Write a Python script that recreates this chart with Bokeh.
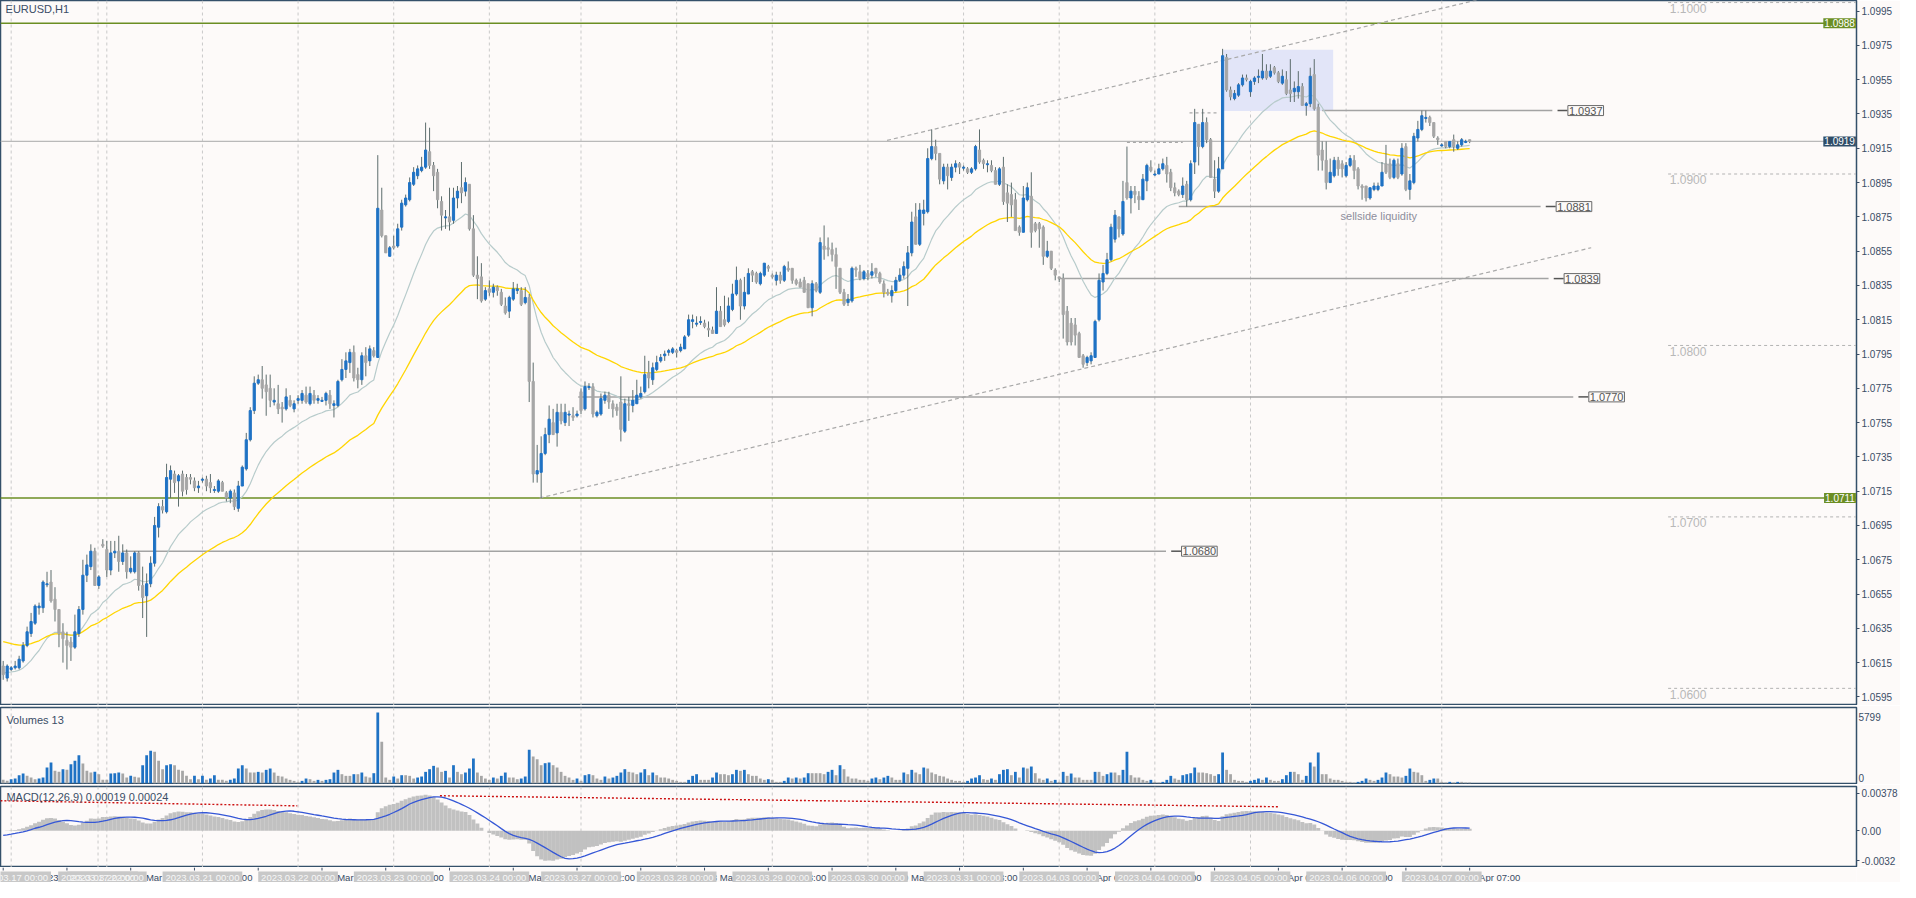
import numpy as np
from bokeh.plotting import figure
from bokeh.models import Range1d, FixedTicker, Label, Span, NumeralTickFormatter, CustomJSTickFormatter
from bokeh.layouts import column
from bokeh.embed import file_html
from bokeh.resources import INLINE
from bokeh.core.properties import value

# ---------------- data (prices in pips above 1.0000, one per H1 bar) ----------------
symbol_title = "EURUSD,H1"
volume_title = "Volumes 13"
macd_title = "MACD(12,26,9) 0.00019 0.00024"
first_bar = -2   # index of first bar (bar 0 = 2023.03.17 00:00)

open_pips = [
 613,606,611,612,612,616,625,632,638,647, 647,661,662,652,646,633,628,627,624,632,
 646,666,671,680,660,684,681,669,679,680, 674,679,668,668,679,660,654,661,673,694,
 706,703,722,725,721,725,723,723,721,717, 722,722,720,716,715,720,714,711,714,705,
 718,728,745,762,778,780,777,775,767,766, 764,763,768,763,768,
 768,771,766,771,768,768,768,771,765,765, 780,786,790,796,783,780,794,791,797,793,
 879,864,852,858,858,869,882,885,894,899, 902,904,913,905,901,884,875,875,873,886,
 892,890,894,868,841,840,827,833,831,834, 831,823,820,827,832,832,825,828,779,725,
 726,737,748,755,749,761,755,760,759,759, 773,763,776,776,759,
 760,768,771,766,764,767,750,766,765,766, 770,773,784,780,786,791,794,796,796,797,
 797,798,806,814,813,814,813,810,809,807, 820,815,814,821,830,838,823,830,843,842,
 836,841,846,841,838,841,838,845,845,838, 837,838,836,822,836,831,858,857,856,853,
 845,831,825,826,845,843,839,842,841,845, 842,836,831,829,832,
 838,841,845,854,875,859,877,878,909,916, 912,896,904,898,904,906,904,903,901,903,
 914,908,906,905,902,894,904,889,888,885, 869,866,885,887,871,871,869,852,855,844,
 840,839,820,813,812,807,794,790,791,793, 815,837,842,850,862,875,865,895,886,890,
 887,885,896,904,900,900,903,905,901,892, 890,888,894,885,907,
 929,916,930,920,897,890,903,968,949,944, 946,952,956,948,954,957,956,960,957,962,
 959,953,955,949,948,948,951,940,941,958, 939,914,908,895,899,908,906,899,905,908,
 903,893,893,886,891,891,893,906,906,898, 906,900,916,891,895,921,926,933,933,930,
 921,917,919,916,920,915,917,919,920]

high_pips = [
 616,614,613,616,619,627,636,644,649,650, 663,668,669,659,646,638,633,630,643,648,
 675,678,684,682,666,687,686,686,686,689, 684,681,677,680,680,671,667,677,700,708,
 710,731,730,727,725,727,725,725,723,721, 723,724,725,718,722,721,715,716,716,721,
 730,749,764,782,783,788,783,783,775,777, 767,775,771,768,771,
 774,776,776,774,771,770,773,774,768,780, 792,796,798,800,787,796,799,800,799,911,
 892,864,858,864,871,885,888,898,904,905, 910,930,927,907,903,887,879,892,892,893,
 907,898,894,876,852,848,834,838,836,835, 833,828,829,837,836,834,834,830,790,742,
 747,752,765,763,766,766,766,762,764,762, 775,779,778,778,762,
 772,773,773,768,766,782,769,770,774,780, 776,794,791,790,794,795,797,798,799,798,
 801,806,818,818,817,817,815,814,811,834, 823,829,828,836,846,839,840,845,844,843,
 843,848,847,842,843,843,847,849,845,839, 839,840,836,838,837,863,870,863,860,857,
 845,833,830,846,846,847,844,844,848,845, 843,838,833,835,840,
 845,849,858,878,883,883,885,915,926,920, 912,906,906,906,908,907,905,904,904,917,
 926,909,908,908,904,904,910,894,895,889, 870,893,895,901,872,872,870,861,855,845,
 840,842,823,816,816,808,795,794,796,815, 842,847,854,871,879,875,896,916,893,893,
 890,900,906,908,902,906,909,910,903,895, 891,898,896,908,938,
 929,938,933,921,908,910,973,970,951,949, 953,958,958,955,957,961,970,964,964,963,
 960,961,960,967,954,960,953,942,962,967, 941,919,919,909,910,910,908,907,911,911,
 904,894,893,892,895,895,907,917,909,909, 909,918,918,900,924,931,937,937,934,930,
 922,918,919,919,923,919,921,920,920]

low_pips = [
 605,604,610,611,611,615,624,630,637,643, 644,659,650,639,624,615,611,616,623,630,
 643,662,669,660,658,682,665,666,676,668, 672,664,667,667,657,641,630,659,671,688,
 702,702,711,714,706,712,713,719,715,714, 720,715,714,714,714,715,709,708,704,703,
 718,727,744,760,777,769,759,764,765,760, 755,762,764,761,766,
 766,766,765,766,766,767,765,763,758,764, 779,781,784,779,775,777,782,788,793,793,
 863,854,852,856,857,867,881,884,893,897, 901,903,903,890,880,867,868,867,871,880,
 883,887,867,840,827,825,826,829,828,829, 823,818,816,826,830,823,824,767,720,720,
 711,736,743,748,741,754,753,753,756,758, 760,762,774,758,758,
 759,766,763,758,759,744,749,756,761,766, 769,772,775,777,785,790,791,794,795,793,
 796,798,805,810,811,812,810,805,807,807, 811,811,813,820,829,815,821,830,837,836,
 835,840,843,839,835,836,837,843,836,835, 834,831,822,817,831,830,850,852,849,833,
 830,823,823,825,840,838,838,838,839,840, 836,828,829,825,831,
 837,839,823,852,859,858,870,877,908,908, 894,894,891,896,901,900,902,900,900,902,
 906,903,901,901,894,893,882,872,875,867, 864,866,884,857,866,857,847,851,844,838,
 837,804,800,800,800,793,787,788,789,793, 814,832,841,849,860,863,864,885,877,883,
 879,885,890,901,899,900,902,895,890,887, 887,886,881,884,900,
 905,915,918,898,886,889,903,948,943,943, 945,951,954,945,952,953,955,955,956,958,
 953,952,946,942,942,944,940,934,939,937, 902,902,891,895,898,899,898,898,904,897,
 891,885,884,885,890,890,893,900,897,897, 897,899,890,885,894,919,925,930,928,921,
 917,916,915,915,913,914,916,918,918]

close_pips = [
 608,613,612,613,617,625,633,639,648,648, 662,661,651,646,632,629,625,624,633,646,
 666,672,680,660,665,683,669,679,680,674, 679,668,670,679,660,653,661,673,695,706,
 704,723,727,720,724,715,716,722,717,718, 722,718,717,716,721,715,711,715,706,718,
 729,745,762,778,780,775,773,768,768,763, 763,770,765,766,769,
 772,767,772,768,769,768,772,766,766,779, 786,791,796,781,780,794,790,798,794,880,
 864,854,857,857,868,883,886,895,901,903, 904,914,905,899,885,876,875,872,886,890,
 889,895,868,841,839,826,832,831,834,832, 824,819,828,833,833,824,828,779,725,727,
 737,748,757,748,761,756,761,760,758,760, 762,776,776,760,761,
 769,771,767,763,762,751,766,765,768,771, 772,783,781,787,790,793,795,797,798,796,
 799,805,815,815,813,814,811,809,807,820, 811,812,823,830,838,823,831,842,841,837,
 842,848,845,840,841,838,846,844,838,836, 834,831,822,836,832,860,856,856,853,846,
 831,824,827,845,844,839,843,840,843,842, 837,831,830,832,838,
 841,846,854,872,859,879,879,909,916,912, 897,904,899,904,906,904,904,901,903,916,
 907,906,906,902,894,903,884,883,882,867, 866,886,892,866,867,868,852,855,845,841,
 839,818,802,802,806,793,789,793,794,814, 838,842,850,869,876,868,884,886,890,888,
 885,897,905,902,900,903,906,900,892,889, 888,893,885,906,930,
 916,930,920,898,890,903,969,949,945,947, 952,956,955,954,956,957,960,956,960,959,
 954,957,947,947,950,951,940,941,957,938, 911,908,895,901,908,903,903,905,909,902,
 893,892,886,892,893,893,901,901,898,908, 898,915,891,896,922,926,934,933,930,922,
 920,917,916,919,916,917,920,919,919]

volumes = [
 274,191,
 328,383,656,793,602,465,328,383,465,1285,1696,1012,930,1149,1094,1559,1832,2297,1614,1012,875,930,738,274,
 274,793,820,875,793,465,602,520,465,1477,2297,2653,2571,1832,1149,1477,1559,1477,1094,1012,602,328,602,328,
 602,274,383,656,274,274,191,274,383,1203,1477,1203,875,875,930,875,1094,1203,875,602,547,383,274,191,
 109,191,383,328,191,274,191,274,328,875,1094,738,602,602,738,738,875,547,465,820,5799,3391,465,274,
 547,383,656,656,602,383,465,547,930,1149,1422,1285,930,1012,465,1477,930,738,875,1203,2024,875,602,383,
 274,465,383,602,875,465,465,328,383,547,2735,2188,1969,1477,1641,1696,1477,1285,930,602,465,274,383,
 191,656,738,656,383,274,547,383,465,602,875,1149,930,875,738,875,1149,656,875,656,465,465,383,274,
 191,109,109,274,602,738,274,274,274,465,875,738,738,656,738,1094,1012,1094,738,602,602,383,274,328,
 274,109,109,191,465,383,465,383,465,820,820,820,820,738,930,1094,656,1477,1149,547,383,383,274,274,
 191,383,465,328,465,602,465,274,274,875,738,1094,875,738,1285,1203,875,738,602,547,
 383,274,191,191,109,191,383,465,656,328, 274,383,274,738,1094,1149,656,930,465,1285,
 1203,1367,820,383,274,383,191,274,109,930, 602,793,465,465,274,274,274,930,930,602,
 738,875,875,656,1094,2571,656,465,465,274, 191,274,109,55,109,274,602,383,274,656,
 738,820,1285,875,875,820,738,602,738,2516, 1094,738,274,191,191,109,191,274,383,274,
 465,274,191,191,328,656,930,930,738,274, 602,1696,1367,2516,738,738,383,274,274,191,
 109,109,55,109,191,383,274,191,274,465, 875,738,547,547,465,602,1203,930,875,656,
 191,274,383,383,109,55,109,55,109,109,55,55]

sep_bars = [0, 21.8, 24, 48, 72, 96, 120, 143, 167, 191, 215, 239, 263, 287, 311, 335, 359]
sep_labels = ["2023.03.17 00:00", "2023.03.17 22:00", "2023.03.20 00:00", "2023.03.21 00:00",
              "2023.03.22 00:00", "2023.03.23 00:00", "2023.03.24 00:00", "2023.03.27 00:00",
              "2023.03.28 00:00", "2023.03.29 00:00", "2023.03.30 00:00", "2023.03.31 00:00",
              "2023.04.03 00:00", "2023.04.04 00:00", "2023.04.05 00:00", "2023.04.06 00:00",
              "2023.04.07 00:00"]
time_tick_bars = list(range(-2, 367, 16))
time_tick_labels = ["17 Mar 2023", "17 Mar 14:00", "20 Mar 06:00", "20 Mar 22:00", "21 Mar 14:00",
                    "22 Mar 06:00", "22 Mar 22:00", "23 Mar 14:00", "24 Mar 06:00", "24 Mar 22:00",
                    "27 Mar 15:00", "28 Mar 07:00", "28 Mar 23:00", "29 Mar 15:00", "30 Mar 07:00",
                    "30 Mar 23:00", "31 Mar 15:00", "3 Apr 07:00", "3 Apr 23:00", "4 Apr 15:00",
                    "5 Apr 07:00", "5 Apr 23:00", "6 Apr 15:00", "7 Apr 07:00"]

price_ticks = [1.0595, 1.0615, 1.0635, 1.0655, 1.0675, 1.0695, 1.0715, 1.0735, 1.0755, 1.0775,
               1.0795, 1.0815, 1.0835, 1.0855, 1.0875, 1.0895, 1.0915, 1.0935, 1.0955, 1.0975, 1.0995]
vol_axis_labels = ["5799", "0"]
macd_axis_labels = ["0.00378", "0.00", "-0.0032"]

olive_levels = [1.0988, 1.0711]
bid_price = 1.0919
tag_prices = [1.0988, 1.0919, 1.0711]
level_prices = [1.0937, 1.0881, 1.0839, 1.0770, 1.0680]
level_start = [329, 293, 262.75, 142.3, 27.8]
level_end = [386.75, 383.8, 385.8, 392.0, 289.8]
round_levels = [1.1000, 1.0900, 1.0800, 1.0700, 1.0600]
round_labels = ["1.1000", "1.0900", "1.0800", "1.0700", "1.0600"]
lower_channel = [(132.6, 1.0711), (396.5, 1.0857)]
upper_channel_start = (219.8, 1.09196)
marker_lines = [(280, 294, 1.09184), (295.7, 302.8, 1.09356)]
zone = dict(left=304, right=331.75, bottom=1.09368, top=1.09725)
note_text = "sellside liquidity"
note_pos = (333.6, 1.08757)
macd_trend = [((-2.7, 0.00289), (71.8, 0.00240)), ((107.6, 0.00337), (318.3, 0.00231))]
ema_fast_seed, ema_slow_seed = 1.0609, 1.0628
signal_seed = -0.0005

# ---------------- derived ----------------
o = 1 + np.array(open_pips) / 10000.0
h = 1 + np.array(high_pips) / 10000.0
l = 1 + np.array(low_pips) / 10000.0
c = 1 + np.array(close_pips) / 10000.0
vol = np.array(volumes, dtype=float)
nbar = np.arange(first_bar, first_bar + len(c))


def ema(x, period, seed):
    a = 2.0 / (period + 1)
    out, e = [], seed
    for v in x:
        e = e + a * (v - e)
        out.append(e)
    return np.array(out)

ema_fast = ema(c, 20, ema_fast_seed)
ema_slow = ema(c, 50, ema_slow_seed)
macd_main = ema(c, 12, c[0]) - ema(c, 26, c[0])
padded = np.concatenate([np.full(8, signal_seed), macd_main])
macd_sig = np.array([padded[i:i + 9].mean() for i in range(len(macd_main))])

# ---------------- style ----------------
BG = "#fdfaf9"
FRAME = "#34506a"
AX = "#3a4d66"
BLUE = "#1f72c4"
GRAY = "#a6a6a6"
WICK = "#5d6d6d"
OLIVE = "#6b8e23"
FONT = "Liberation Sans"
W = 1900
RB = 37
FRAME_W = W - RB
MAIN_H = 705
X0 = -2.675
xr = Range1d(X0, X0 + FRAME_W / 4.0)
X_EDGE = X0 + FRAME_W / 4.0


def make(height, yr, axis=True, top=0):
    p = figure(width=W, height=height, x_range=xr, y_range=yr, output_backend="svg",
               toolbar_location=None, tools="", x_axis_location=None,
               y_axis_location="right" if axis else None,
               min_border_left=0, min_border_right=RB, min_border_top=top, min_border_bottom=0)
    p.background_fill_color = BG
    p.border_fill_color = BG
    p.grid.visible = False
    if axis:
        p.outline_line_color = FRAME
        p.outline_line_width = 1.5
        ax = p.yaxis[0]
        ax.axis_line_color = FRAME
        ax.major_label_text_font = FONT
        ax.major_label_text_font_size = "10px"
        ax.major_label_text_color = AX
        ax.major_tick_line_color = AX
        ax.major_tick_out = 3
        ax.major_tick_in = 0
        ax.minor_tick_out = 0
        ax.minor_tick_in = 0
        ax.major_label_standoff = 2
        for d in sep_bars:
            p.add_layout(Span(location=d, dimension="height", line_color="#c9c9c9",
                              line_dash="3 3", line_width=1, level="underlay"))
    else:
        p.outline_line_color = None
    return p


def title(p, x, y, txt):
    p.text(x=[x], y=[y], text=[txt], text_font=value(FONT), text_font_size=value("11px"),
           text_color=AX, text_baseline="middle", text_align="left")

# ---------------- main pane ----------------
yr_main = Range1d(1.05900, 1.10012)
pm = make(MAIN_H, yr_main)
pm.yaxis[0].ticker = FixedTicker(ticks=price_ticks)
pm.yaxis[0].formatter = NumeralTickFormatter(format="0.0000")

pm.quad(left=[zone["left"]], right=[zone["right"]], bottom=[zone["bottom"]], top=[zone["top"]],
        fill_color="#e2e5f8", line_color=None)

for lv in olive_levels:
    pm.add_layout(Span(location=lv, dimension="width", line_color=OLIVE, line_width=1.5, level="underlay"))
pm.add_layout(Span(location=bid_price, dimension="width", line_color="#b9b9b9", line_width=1.2, level="underlay"))

pm.segment(x0=[415.8] * len(round_levels), y0=round_levels, x1=[X_EDGE] * len(round_levels), y1=round_levels,
           line_color="#b3b3b3", line_dash="3 3", line_width=1)
pm.text(x=[416.2] * len(round_levels), y=[v - 0.00007 for v in round_levels], text=round_labels,
        text_font=value(FONT), text_font_size=value("12px"), text_color="#b8b8b8",
        text_baseline="top", text_align="left")

slope = (lower_channel[1][1] - lower_channel[0][1]) / (lower_channel[1][0] - lower_channel[0][0])
pm.segment(x0=[lower_channel[0][0]], y0=[lower_channel[0][1]], x1=[lower_channel[1][0]], y1=[lower_channel[1][1]],
           line_color="#a9a9a9", line_dash="4 3", line_width=1.2)
ux1 = 372
pm.segment(x0=[upper_channel_start[0]], y0=[upper_channel_start[1]], x1=[ux1],
           y1=[upper_channel_start[1] + slope * (ux1 - upper_channel_start[0])],
           line_color="#a9a9a9", line_dash="4 3", line_width=1.2)
for (a0, a1, pv) in marker_lines:
    pm.segment(x0=[a0], y0=[pv], x1=[a1], y1=[pv], line_color="#a9a9a9", line_dash="3 3", line_width=1.2)

pm.segment(x0=level_start, y0=level_prices, x1=level_end, y1=level_prices, line_color="#a3a3a3", line_width=1.5)
pm.segment(x0=[e + 1.3 for e in level_end], y0=level_prices, x1=[e + 3.8 for e in level_end], y1=level_prices,
           line_color="#555555", line_width=1.5)
for pv, e in zip(level_prices, level_end):
    pm.add_layout(Label(x=e + 3.9, y=pv, text=f"{pv:.4f}", text_font=FONT, text_font_size="11px",
                        text_color="#555555", text_align="left", text_baseline="middle",
                        background_fill_color=BG, border_line_color="#6a6a6a", border_line_width=1,
                        padding=1))

pm.line(nbar, ema_fast, line_color="#b7cbcb", line_width=1.2)
pm.line(nbar, ema_slow, line_color="#ffd500", line_width=1.3)

up = c >= o
body_top = np.maximum(o, c)
body_bot = np.minimum(o, c)
body_bot = np.where(body_top - body_bot < 0.00006, body_top - 0.00006, body_bot)
pm.segment(x0=nbar, y0=l, x1=nbar, y1=h, line_color=WICK, line_width=1)
colors = list(np.where(up, BLUE, GRAY))
pm.vbar(x=nbar, top=body_top, bottom=body_bot, width=0.55, fill_color=colors, line_color=colors, line_width=1)

pm.text(x=[note_pos[0]], y=[note_pos[1]], text=[note_text], text_font=value(FONT), text_font_size=value("11px"),
        text_color="#8e8e9c", text_baseline="middle", text_align="left")
title(pm, -1.4, 1.0996, symbol_title)

# price tags, placed against the right border of the chart (inside the frame so they are drawn)
for t, col in zip(tag_prices, [OLIVE, "#2f4d68", OLIVE]):
    pm.add_layout(Label(x=X_EDGE - 0.15, y=t, text=f"{t:.4f}", text_font=FONT, text_font_size="10px",
                        text_color="white", background_fill_color=col, text_baseline="middle",
                        text_align="right", padding=1))

# ---------------- volume pane ----------------
pv_ = make(79, Range1d(-107, 6209), top=2)
pv_.yaxis[0].ticker = FixedTicker(ticks=[5400, 420])
pv_.yaxis[0].formatter = CustomJSTickFormatter(code="return tick > 1000 ? '%s' : '%s';" % tuple(vol_axis_labels))
pv_.yaxis[0].major_tick_out = 0
vcol = [BLUE if (i > 0 and vol[i] > vol[i - 1]) else GRAY for i in range(len(vol))]
pv_.vbar(x=nbar, top=vol, bottom=0, width=0.7, fill_color=vcol, line_color=None)
title(pv_, -1.2, 5200, volume_title)

# ---------------- MACD pane ----------------
pc = make(83, Range1d(-0.00353, 0.00426), top=2)
pc.yaxis[0].ticker = FixedTicker(ticks=[0.00359, 0.0, -0.00289])
pc.yaxis[0].formatter = CustomJSTickFormatter(
    code="if (tick > 0.001) return '%s'; if (tick < -0.001) return '%s'; return '%s';"
         % (macd_axis_labels[0], macd_axis_labels[2], macd_axis_labels[1]))
pc.vbar(x=nbar, top=macd_main, bottom=0, width=1.0, fill_color="#c1c1c1", line_color=None)
pc.line(nbar, macd_sig, line_color="#3557d6", line_width=1.3)
for (p0, p1) in macd_trend:
    pc.segment(x0=[p0[0]], y0=[p0[1]], x1=[p1[0]], y1=[p1[1]], line_color="#cc1010", line_dash="2 2", line_width=1.4)
title(pc, -1.2, 0.00326, macd_title)

# ---------------- time scale strip ----------------
pt = make(15, Range1d(0, 15), axis=False)
pt.segment(x0=time_tick_bars, y0=[15] * len(time_tick_bars), x1=time_tick_bars, y1=[12] * len(time_tick_bars),
           line_color=AX, line_width=1)
pt.text(x=[b + 0.5 for b in time_tick_bars], y=[5.5] * len(time_tick_bars), text=time_tick_labels,
        text_font=value(FONT), text_font_size=value("9.5px"), text_color=AX,
        text_baseline="middle", text_align="left")
half = 10.0
pt.quad(left=[d - half for d in sep_bars], right=[d + half for d in sep_bars],
        bottom=[0] * len(sep_bars), top=[11] * len(sep_bars), fill_color="#c8c8c8", line_color=None)
pt.text(x=sep_bars, y=[5.5] * len(sep_bars), text=sep_labels, text_font=value(FONT),
        text_font_size=value("9.5px"), text_color="#f7f7f7", text_baseline="middle", text_align="center")

layout = column(pm, pv_, pc, pt, spacing=0)
open("out.html", "w").write(file_html(layout, INLINE))
